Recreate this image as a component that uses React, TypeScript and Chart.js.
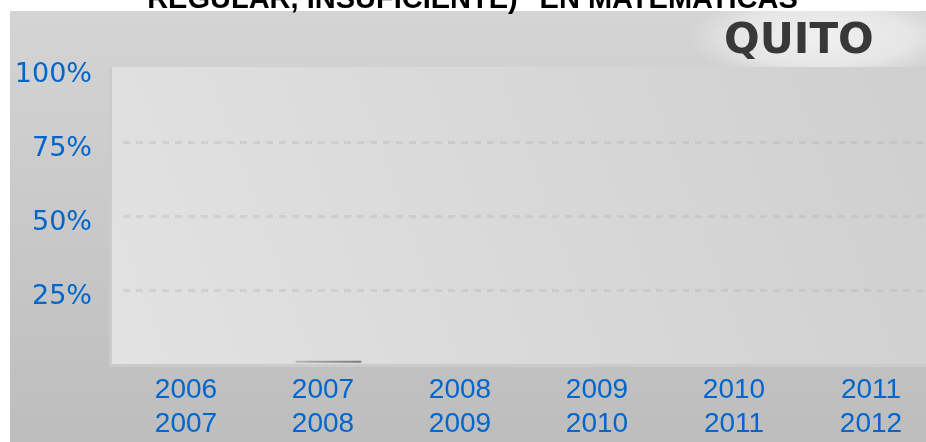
import React, { useEffect, useRef } from 'react';
import { Chart, registerables } from 'chart.js';

Chart.register(...registerables);

const TITLE = 'REGULAR, INSUFICIENTE)" EN MATEMATICAS';
const CITY = 'QUITO';
const periodStart = ['2006', '2007', '2008', '2009', '2010', '2011'];
const periodEnd = ['2007', '2008', '2009', '2010', '2011', '2012'];
const values = [0, 1, 0, 0, 0, 0];
const yTicks = [0, 25, 50, 75, 100];
const yTickLabels = ['', '25%', '50%', '75%', '100%'];

const W = 960;
const H = 442;

const bgPlugin = {
  id: 'bgPlugin',
  beforeDraw(chart: any) {
    const ctx = chart.ctx;
    const ca = chart.chartArea;
    ctx.save();
    ctx.fillStyle = '#ffffff';
    ctx.fillRect(0, 0, W, H);
    const g = ctx.createLinearGradient(0, 11, 0, H);
    g.addColorStop(0, '#d4d4d4');
    g.addColorStop(1, '#bdbdbd');
    ctx.fillStyle = g;
    ctx.fillRect(10, 11, W - 10, H - 11);
    // soft glow behind city name
    ctx.save();
    ctx.beginPath();
    ctx.rect(10, 11, W - 10, 56);
    ctx.clip();
    ctx.translate(822, 37);
    ctx.scale(1, 0.34);
    const rg = ctx.createRadialGradient(0, 0, 0, 0, 0, 135);
    rg.addColorStop(0, 'rgba(242,242,242,0.95)');
    rg.addColorStop(0.65, 'rgba(236,236,236,0.75)');
    rg.addColorStop(1, 'rgba(230,230,230,0)');
    ctx.fillStyle = rg;
    ctx.fillRect(-140, -140, 280, 280);
    ctx.restore();
    const top = ca.top - 1;
    const left = ca.left - 11;
    const bottom = ca.bottom;
    ctx.fillStyle = '#cbcbcb';
    ctx.fillRect(left - 3, top, W - (left - 3), bottom + 3 - top);
    const pg = ctx.createLinearGradient(left, bottom, 926, top);
    pg.addColorStop(0, '#e2e2e2');
    pg.addColorStop(1, '#cfcfcf');
    ctx.fillStyle = pg;
    ctx.fillRect(left, top, W - left, bottom - top);
    ctx.restore();
  },
  afterDraw(chart: any) {
    const ctx = chart.ctx;
    ctx.save();
    ctx.font = 'bold 42px "DejaVu Sans", sans-serif';
    ctx.fillStyle = '#383838';
    ctx.textAlign = 'left';
    ctx.textBaseline = 'alphabetic';
    ctx.fillText(CITY, 724, 53);
    ctx.restore();
  },
};

export default function App() {
  const ref = useRef<HTMLCanvasElement>(null);

  useEffect(() => {
    if (!ref.current) return;
    const labels = periodStart.map((s, i) => [s, periodEnd[i]]);
    const chart = new Chart(ref.current, {
      type: 'bar',
      data: {
        labels,
        datasets: [
          {
            data: values,
            borderWidth: 0,
            barThickness: 65,
            backgroundColor: (c: any) => {
              const ch = c.chart;
              const xs = ch.scales && ch.scales.x;
              if (c.raw === 0) return 'rgba(0,0,0,0)';
              if (!xs || c.dataIndex === undefined) return '#999999';
              const cx = xs.getPixelForValue(c.dataIndex);
              if (!Number.isFinite(cx)) return '#999999';
              const gr = ch.ctx.createLinearGradient(cx - 32.5, 0, cx + 32.5, 0);
              gr.addColorStop(0, '#b5b5b5');
              gr.addColorStop(1, '#7a7a7a');
              return gr;
            },
          },
        ],
      },
      options: {
        responsive: false,
        animation: false,
        devicePixelRatio: 1,
        layout: { padding: { left: 0, right: 15, top: 0, bottom: 0 } },
        plugins: {
          legend: { display: false },
          tooltip: { enabled: false },
          title: {
            display: true,
            text: TITLE,
            color: '#000000',
            font: { family: '"Liberation Sans", Arial, sans-serif', size: 29, weight: 'bold', lineHeight: 1.2 },
            padding: { top: -17, bottom: 50.2 },
          },
        },
        scales: {
          x: {
            grid: { display: false },
            border: { display: false },
            ticks: {
              color: '#0066CC',
              font: { family: '"Liberation Sans", Arial, sans-serif', size: 28, lineHeight: 1.21 },
              padding: 1,
              labelOffset: -5.5,
              maxRotation: 0,
              autoSkip: false,
            },
            afterFit(s: any) {
              s.height = 78;
            },
          },
          y: {
            min: 0,
            max: 100,
            afterBuildTicks(s: any) {
              s.ticks = yTicks.map((v) => ({ value: v }));
            },
            grid: {
              drawTicks: false,
              lineWidth: 3,
              color: (c: any) =>
                c.tick && c.tick.value > 0 && c.tick.value < 100 ? 'rgba(170,170,170,0.28)' : 'rgba(0,0,0,0)',
            },
            border: { display: false, dash: [7, 6] },
            ticks: {
              color: '#0066CC',
              font: { family: '"DejaVu Sans", sans-serif', size: 27 },
              padding: 31,
              labelOffset: 7,
              callback: (v: any) => yTickLabels[yTicks.indexOf(Number(v))],
            },
            afterFit(s: any) {
              s.width = 123;
            },
          },
        },
      },
      plugins: [bgPlugin],
    } as any);
    return () => chart.destroy();
  }, []);

  return (
    <div
      style={{
        position: 'absolute',
        left: 0,
        top: 0,
        width: 926,
        height: 442,
        overflow: 'hidden',
        background: '#ffffff',
      }}
    >
      <canvas ref={ref} width={W} height={H} style={{ display: 'block', width: W, height: H }} />
    </div>
  );
}
